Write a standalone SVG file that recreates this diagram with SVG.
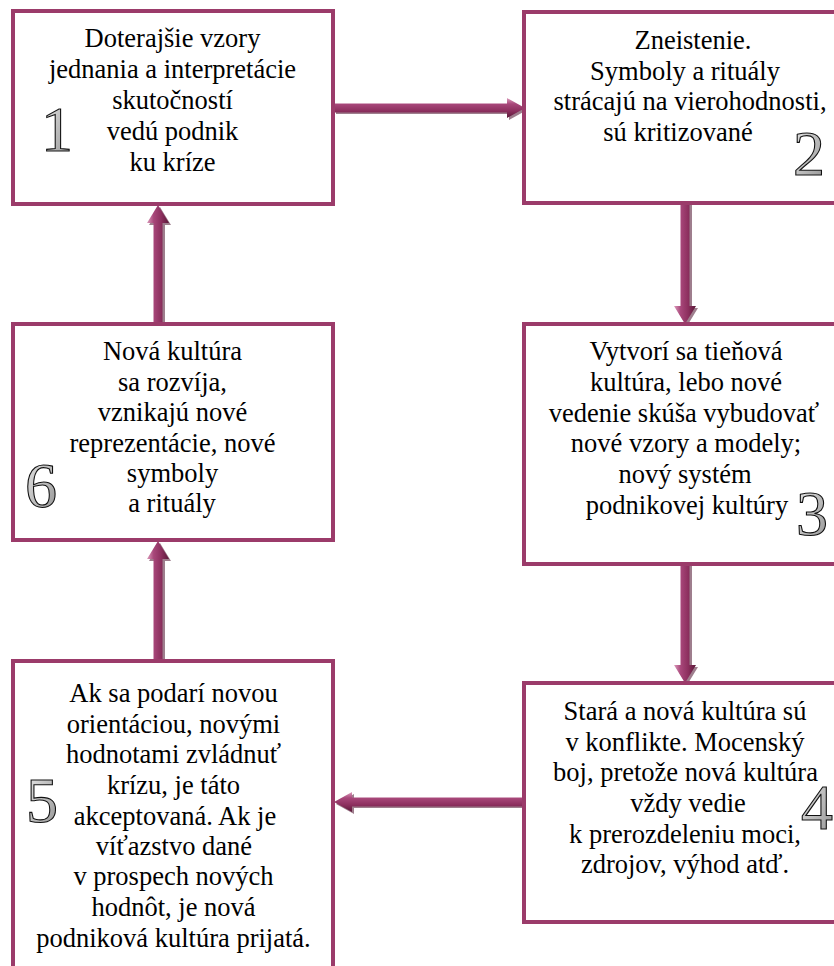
<svg xmlns="http://www.w3.org/2000/svg" width="834" height="966" viewBox="0 0 834 966">
  <defs>
    <!-- shading for horizontal arrows: light on top, dark underneath -->
    <linearGradient id="shadeH" x1="0" y1="0" x2="0" y2="1">
      <stop offset="0" stop-color="#dc9cbc"/>
      <stop offset="0.3" stop-color="#a8477a"/>
      <stop offset="0.65" stop-color="#8c2f5e"/>
      <stop offset="1" stop-color="#5a1838"/>
    </linearGradient>
    <!-- shading for vertical arrows: light on the left, dark on the right -->
    <linearGradient id="shadeV" x1="0" y1="0" x2="1" y2="0">
      <stop offset="0" stop-color="#dc9cbc"/>
      <stop offset="0.3" stop-color="#a8477a"/>
      <stop offset="0.65" stop-color="#8c2f5e"/>
      <stop offset="1" stop-color="#5a1838"/>
    </linearGradient>
    <linearGradient id="numFill" x1="0" y1="0" x2="1" y2="1">
      <stop offset="0" stop-color="#eeeeee"/>
      <stop offset="0.5" stop-color="#bdbdbd"/>
      <stop offset="1" stop-color="#8f8f8f"/>
    </linearGradient>
  </defs>
  <style>
    .box { fill: #ffffff; stroke: #9b3b6a; stroke-width: 4; }
    .t { font-family: "Liberation Serif", "Times New Roman", serif; font-size: 26.5px; fill: #000000; text-anchor: middle; }
    .num { font-family: "Liberation Serif", "Times New Roman", serif; font-size: 64px; fill: url(#numFill); stroke: #111111; stroke-width: 1.1; text-anchor: middle; }
    .shadow { fill: #4e1430; opacity: 0.55; }
  </style>

  <rect width="834" height="966" fill="#ffffff"/>

  <!-- connectors -->
  <g id="connectors">
    <!-- 1 -> 2 -->
    <polygon class="shadow" points="336,106 509,106 509,100 527,110 509,120 509,114 336,114"/>
    <polygon fill="url(#shadeH)" points="334,103.5 507,103.5 507,98 525,108 507,118 507,112.5 334,112.5"/>
    <!-- 2 -> 3 -->
    <polygon class="shadow" points="682,205 692,205 692,308 698,308 687,326 676,308 682,308"/>
    <polygon fill="url(#shadeV)" points="680.5,203 689.5,203 689.5,306 696,306 685,324 674,306 680.5,306"/>
    <!-- 3 -> 4 -->
    <polygon class="shadow" points="682,566 692,566 692,667 698,667 687,685 676,667 682,667"/>
    <polygon fill="url(#shadeV)" points="680.5,564 689.5,564 689.5,665 696,665 685,683 674,665 680.5,665"/>
    <!-- 4 -> 5 -->
    <polygon class="shadow" points="524,800 354,800 354,794 336,804 354,814 354,808 524,808"/>
    <polygon fill="url(#shadeH)" points="522,797.5 352,797.5 352,792 334,802 352,812 352,806.5 522,806.5"/>
    <!-- 5 -> 6 -->
    <polygon class="shadow" points="155,661 165,661 165,561 171,561 160,543 149,561 155,561"/>
    <polygon fill="url(#shadeV)" points="153.5,659 162.5,659 162.5,559 169,559 158,541 147,559 153.5,559"/>
    <!-- 6 -> 1 -->
    <polygon class="shadow" points="155,324 165,324 165,225 171,225 160,207 149,225 155,225"/>
    <polygon fill="url(#shadeV)" points="153.5,322 162.5,322 162.5,223 169,223 158,205 147,223 153.5,223"/>
  </g>

  <!-- step 1 -->
  <g id="node1">
    <rect class="box" x="13" y="11" width="320" height="193"/>
    <text class="t" x="172.5" y="47">Doterajšie vzory</text>
    <text class="t" x="172.5" y="78">jednania a interpretácie</text>
    <text class="t" x="172.5" y="109">skutočností</text>
    <text class="t" x="172.5" y="140">vedú podnik</text>
    <text class="t" x="172.5" y="171">ku kríze</text>
    <text class="num" x="57" y="151">1</text>
  </g>

  <!-- step 2 -->
  <g id="node2">
    <rect class="box" x="524" y="12" width="321" height="191"/>
    <text class="t" x="693" y="49">Zneistenie.</text>
    <text class="t" x="685" y="80">Symboly a rituály</text>
    <text class="t" x="690" y="110">strácajú na vierohodnosti,</text>
    <text class="t" x="678" y="141">sú kritizované</text>
    <text class="num" x="809" y="175">2</text>
  </g>

  <!-- step 3 -->
  <g id="node3">
    <rect class="box" x="524" y="324" width="321" height="240"/>
    <text class="t" x="686" y="360">Vytvorí sa tieňová</text>
    <text class="t" x="686" y="391">kultúra, lebo nové</text>
    <text class="t" x="684" y="422">vedenie skúša vybudovať</text>
    <text class="t" x="686" y="452">nové vzory a modely;</text>
    <text class="t" x="685" y="483">nový systém</text>
    <text class="t" x="687" y="514">podnikovej kultúry</text>
    <text class="num" x="812" y="535">3</text>
  </g>

  <!-- step 4 -->
  <g id="node4">
    <rect class="box" x="524" y="683" width="321" height="239"/>
    <text class="t" x="685" y="720">Stará a nová kultúra sú</text>
    <text class="t" x="685" y="751">v konflikte. Mocenský</text>
    <text class="t" x="685.5" y="781">boj, pretože nová kultúra</text>
    <text class="t" x="688" y="812">vždy vedie</text>
    <text class="t" x="685" y="843">k prerozdeleniu moci,</text>
    <text class="t" x="685" y="873">zdrojov, výhod atď.</text>
    <text class="num" x="817" y="829">4</text>
  </g>

  <!-- step 5 -->
  <g id="node5">
    <rect class="box" x="13" y="661" width="320" height="330"/>
    <text class="t" x="173.5" y="702">Ak sa podarí novou</text>
    <text class="t" x="173.5" y="733">orientáciou, novými</text>
    <text class="t" x="173.5" y="763">hodnotami zvládnuť</text>
    <text class="t" x="173.5" y="794">krízu, je táto</text>
    <text class="t" x="175" y="825">akceptovaná. Ak je</text>
    <text class="t" x="174" y="855">víťazstvo dané</text>
    <text class="t" x="173.5" y="885">v prospech nových</text>
    <text class="t" x="173.5" y="916">hodnôt, je nová</text>
    <text class="t" x="173.5" y="947">podniková kultúra prijatá.</text>
    <text class="num" x="42" y="822">5</text>
  </g>

  <!-- step 6 -->
  <g id="node6">
    <rect class="box" x="13" y="324" width="320" height="216"/>
    <text class="t" x="172.5" y="360">Nová kultúra</text>
    <text class="t" x="172.5" y="391">sa rozvíja,</text>
    <text class="t" x="172.5" y="421">vznikajú nové</text>
    <text class="t" x="172.5" y="452">reprezentácie, nové</text>
    <text class="t" x="172.5" y="482">symboly</text>
    <text class="t" x="172" y="512">a rituály</text>
    <text class="num" x="41" y="507">6</text>
  </g>
</svg>
